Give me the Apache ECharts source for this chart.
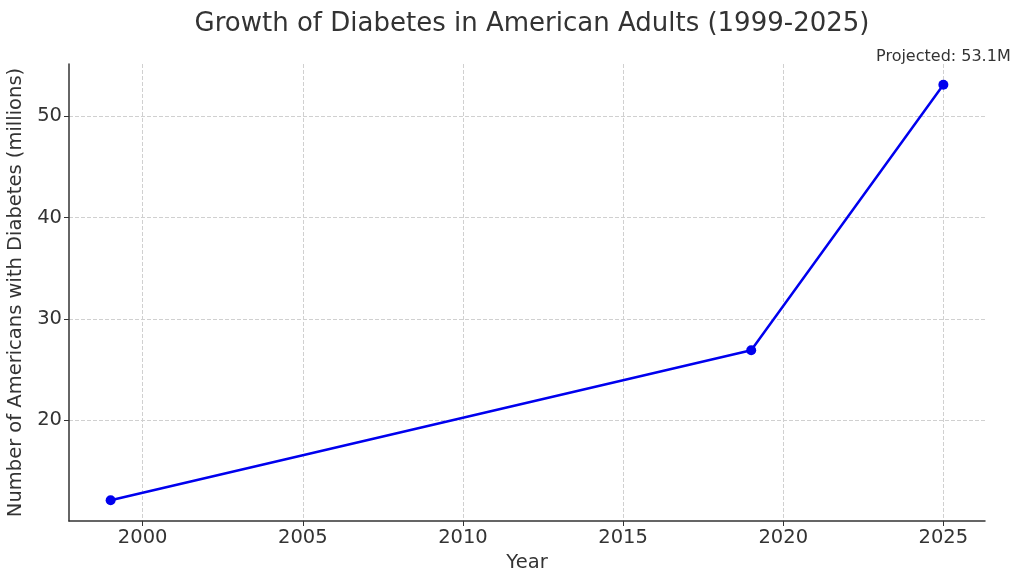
<!DOCTYPE html>
<html>
<head>
<meta charset="utf-8">
<script src="https://cdn.jsdelivr.net/npm/echarts@6/dist/echarts.min.js"></script>
<style>html,body{margin:0;padding:0;background:#fff}#c{width:1024px;height:585px}</style>
</head>
<body>
<div id="c"></div>
<script>
const years = [1999, 2019, 2025];
const diabetesMillions = [12.1, 26.9, 53.1];
const xTicks = [2000, 2005, 2010, 2015, 2020, 2025];
const yTicks = [20, 30, 40, 50];
const titleText = 'Growth of Diabetes in American Adults (1999-2025)';
const xName = 'Year';
const yName = 'Number of Americans with Diabetes (millions)';
const annotationPrefix = 'Projected: ';

const font = 'DejaVu Sans';
const chart = echarts.init(document.getElementById('c'));
const data = years.map((y, i) => {
  const item = { value: [y, diabetesMillions[i]] };
  if (i === years.length - 1) {
    item.label = {
      show: true, position: 'top', distance: 15,
      formatter: p => annotationPrefix + p.value[1] + 'M',
      fontFamily: font, fontSize: 16, color: '#333'
    };
  }
  return item;
});
chart.setOption({
  animation: false,
  title: {
    text: titleText, left: 527, textAlign: 'center', top: 6,
    textStyle: { fontFamily: font, fontSize: 26, fontWeight: 'normal', color: '#333' }
  },
  grid: { left: 69, right: 39, top: 64, bottom: 64, outerBoundsMode: 'none', containLabel: false },
  xAxis: {
    type: 'value', min: 1997.7, max: 2026.3,
    name: xName, nameLocation: 'middle', nameGap: 31,
    nameTextStyle: { fontFamily: font, fontSize: 19.5, color: '#333' },
    axisLine: { lineStyle: { color: '#333', width: 1.5 } },
    axisTick: { show: true, length: 5, customValues: xTicks, lineStyle: { color: '#333' } },
    axisLabel: { customValues: xTicks, formatter: v => String(v), fontFamily: font, fontSize: 19.5, color: '#333', margin: 7 },
    splitLine: { show: true, lineStyle: { type: 'dashed', color: '#d0d0d0', width: 1 } }
  },
  yAxis: {
    type: 'value', min: 10.05, max: 55.15,
    name: yName, nameLocation: 'middle', nameGap: 38,
    nameTextStyle: { fontFamily: font, fontSize: 19.5, color: '#333' },
    axisLine: { show: true, lineStyle: { color: '#333', width: 1.5 } },
    axisTick: { show: true, length: 5, customValues: yTicks, lineStyle: { color: '#333' } },
    axisLabel: { customValues: yTicks, formatter: v => String(v), fontFamily: font, fontSize: 19.5, color: '#333', margin: 7 },
    splitLine: { show: true, lineStyle: { type: 'dashed', color: '#d0d0d0', width: 1 } }
  },
  series: [{
    type: 'line', data: data,
    symbol: 'circle', symbolSize: 10,
    lineStyle: { color: '#0000ee', width: 2.5 },
    itemStyle: { color: '#0000ee' }
  }]
});
</script>
</body>
</html>
